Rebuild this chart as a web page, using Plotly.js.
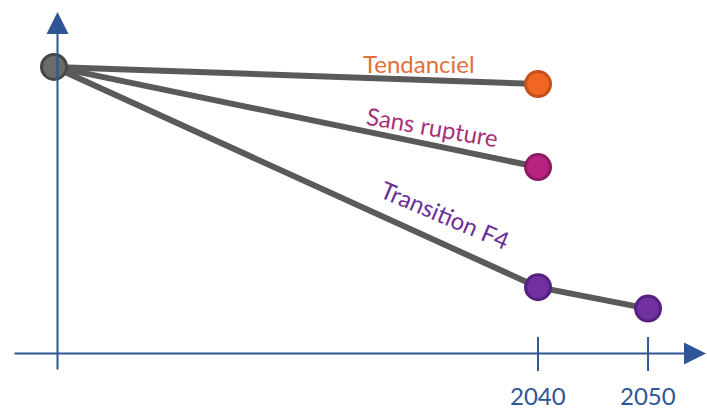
<!DOCTYPE html>
<html>
<head>
<meta charset="utf-8">
<script src="https://cdn.plot.ly/plotly-3.0.1.min.js"></script>
<style>html,body{margin:0;padding:0;background:#fff;}#chart{width:707px;height:411px;}</style>
</head>
<body>
<div id="chart"></div>
<script>
// ---- data ----
const scenarioNames = ['Tendanciel', 'Sans rupture', 'Transition F4'];
const startYear = [1996];
const startValue = [100];
const tendancielYears = [1996, 2040];
const tendancielValues = [100, 94];
const sansRuptureYears = [1996, 2040];
const sansRuptureValues = [100, 65];
const transitionYears = [1996, 2040, 2050];
const transitionValues = [100, 23, 15.5];
const tickYears = [2040, 2050];
const tickLabels = ['2040', '2050'];

// ---- styles ----
const W = 707, H = 411;
const axisBlue = '#2F5597';
const lineGray = '#5A5A5A';
const font = 'Lato, sans-serif';
const scen = [
  {x: tendancielYears, y: tendancielValues, fill: '#F26522', edge: '#C4501B', text: '#E2703A'},
  {x: sansRuptureYears, y: sansRuptureValues, fill: '#B8237F', edge: '#8B1A60', text: '#A8317A'},
  {x: transitionYears, y: transitionValues, fill: '#7030A0', edge: '#55207E', text: '#6C2E96'}
];
const px = v => v / W;
const py = v => 1 - v / H;

const traces = [];
scen.forEach(s => traces.push({
  x: s.x, y: s.y, mode: 'lines', type: 'scatter', hoverinfo: 'skip',
  line: {color: lineGray, width: 6}
}));
scen.forEach(s => traces.push({
  x: s.x.slice(1), y: s.y.slice(1), mode: 'markers', type: 'scatter', hoverinfo: 'skip',
  marker: {size: 25, color: s.fill, line: {color: s.edge, width: 3}}
}));
traces.push({
  x: startYear, y: startValue, mode: 'markers', type: 'scatter', hoverinfo: 'skip',
  marker: {size: 25, color: '#6B6B6B', line: {color: '#474747', width: 3}}
});

const lbl = (x, y, text, color, angle) => ({
  xref: 'paper', yref: 'paper', x: px(x), y: py(y), xanchor: 'center', yanchor: 'middle',
  text: text, showarrow: false, textangle: angle || 0,
  font: {family: font, size: 24, color: color}
});

const annotations = [
  // x axis with arrow
  {xref: 'paper', yref: 'paper', x: px(706), y: py(353.5), ax: -693, ay: 0, text: '',
   showarrow: true, arrowhead: 2, arrowsize: 2.2, arrowwidth: 2, arrowcolor: axisBlue},
  // y axis with arrow
  {xref: 'paper', yref: 'paper', x: px(57.5), y: py(12), ax: 0, ay: 359, text: '',
   showarrow: true, arrowhead: 2, arrowsize: 2.2, arrowwidth: 2, arrowcolor: axisBlue},
  lbl(419, 63, scenarioNames[0], scen[0].text, 0),
  lbl(432, 126, scenarioNames[1], scen[1].text, 10),
  lbl(445, 214, scenarioNames[2], scen[2].text, 23)
];
tickYears.forEach((yr, i) => annotations.push({
  xref: 'x', yref: 'paper', x: yr, y: py(395), xanchor: 'center', yanchor: 'middle',
  text: tickLabels[i], showarrow: false,
  font: {family: font, size: 24, color: axisBlue}
}));

const shapes = tickYears.map(yr => ({
  type: 'line', xref: 'x', yref: 'paper', x0: yr, x1: yr, y0: py(337), y1: py(371),
  line: {color: axisBlue, width: 2}
}));

const layout = {
  width: W, height: H,
  margin: {l: 0, r: 0, t: 0, b: 0},
  paper_bgcolor: '#fff', plot_bgcolor: '#fff',
  showlegend: false,
  xaxis: {range: [1991.09, 2055.36], visible: false, fixedrange: true},
  yaxis: {range: [-20.3, 123.4], visible: false, fixedrange: true},
  annotations: annotations,
  shapes: shapes
};

Plotly.newPlot('chart', traces, layout, {displayModeBar: false, staticPlot: true});
</script>
</body>
</html>
